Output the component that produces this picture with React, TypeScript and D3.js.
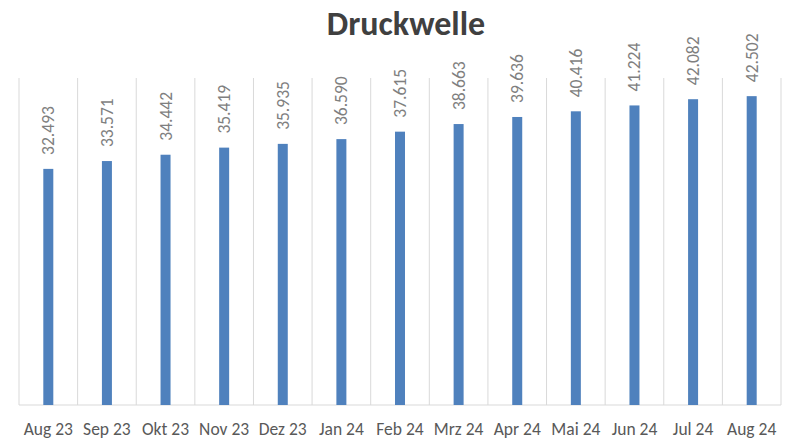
import * as d3 from 'd3';

const months = [
  'Aug 23', 'Sep 23', 'Okt 23', 'Nov 23', 'Dez 23', 'Jan 24', 'Feb 24',
  'Mrz 24', 'Apr 24', 'Mai 24', 'Jun 24', 'Jul 24', 'Aug 24',
];
const values = [
  32.493, 33.571, 34.442, 35.419, 35.935, 36.59, 37.615,
  38.663, 39.636, 40.416, 41.224, 42.082, 42.502,
];
const yMax = 45;

const width = 790;
const height = 441;
const font = 'Carlito, Calibri, Lato, sans-serif';

export default function App() {
  const x = d3.scaleBand<string>().domain(months).range([19, 781]).padding(0);
  const y = d3.scaleLinear().domain([0, yMax]).range([405, 78]);
  const barW = 10;
  const fmt = d3.format('.3f');

  const edges = [...months.map((m) => x(m) as number), x.range()[1]];

  return (
    <svg
      width={width}
      height={height}
      style={{ position: 'absolute', left: 0, top: 0, background: '#fff' }}
      fontFamily={font}
    >
      <text
        x={406}
        y={35}
        textAnchor="middle"
        fontSize={34}
        fontWeight="bold"
        fill="#404040"
      >
        Druckwelle
      </text>

      {edges.map((ex, i) => (
        <line key={i} x1={ex} x2={ex} y1={y(yMax)} y2={y(0)} stroke="#d9d9d9" strokeWidth={1} />
      ))}
      <line x1={x.range()[0]} x2={x.range()[1]} y1={y(0)} y2={y(0)} stroke="#d9d9d9" />

      {months.map((m, i) => {
        const cx = (x(m) as number) + x.bandwidth() / 2;
        const v = values[i];
        return (
          <g key={m}>
            <rect x={cx - barW / 2} y={y(v)} width={barW} height={y(0) - y(v)} fill="#4f81bd" />
            <text
              transform={`translate(${cx + 6},${y(v) - 14}) rotate(-90)`}
              fontSize={17.5}
              fill="#7f7f7f"
            >
              {fmt(v)}
            </text>
            <text x={cx} y={435} textAnchor="middle" fontSize={17.5} fill="#595959">
              {m}
            </text>
          </g>
        );
      })}
    </svg>
  );
}
